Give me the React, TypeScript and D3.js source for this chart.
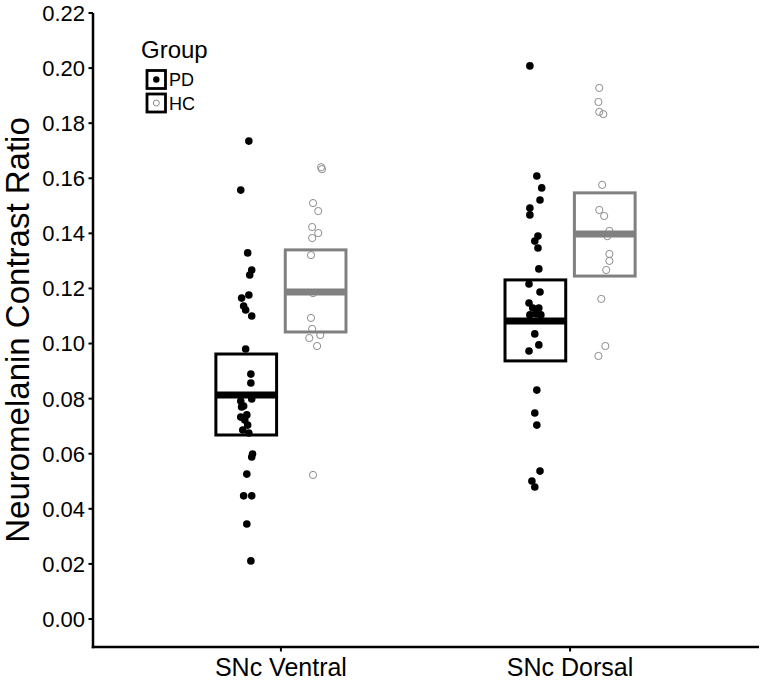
import React from 'react';
import * as d3 from 'd3';

const categories = ['SNc Ventral', 'SNc Dorsal'];
const yTicks = [0, 0.02, 0.04, 0.06, 0.08, 0.1, 0.12, 0.14, 0.16, 0.18, 0.2, 0.22];

// PD points: [value, jitter (x units)]
const pdVentral: [number, number][] = [
  [0.1735, 0.009], [0.1557, -0.019], [0.1329, 0.005], [0.1267, 0.019], [0.1249, 0.012],
  [0.1176, 0.009], [0.1165, -0.016], [0.1136, -0.009], [0.1122, -0.002], [0.1100, 0.019],
  [0.0980, -0.002], [0.0889, 0.016], [0.0857, 0.016], [0.0799, 0.019], [0.0791, -0.019],
  [0.0773, -0.009], [0.0770, -0.016], [0.0741, 0.002], [0.0733, -0.019], [0.0722, -0.005],
  [0.0704, 0.005], [0.0686, -0.012], [0.0675, 0.009], [0.0599, 0.022], [0.0588, 0.019],
  [0.0526, 0.002], [0.0447, -0.009], [0.0447, 0.019], [0.0345, 0.002], [0.0211, 0.016],
];
const pdDorsal: [number, number][] = [
  [0.2008, -0.019], [0.1608, 0.005], [0.1565, 0.022], [0.1521, 0.016], [0.1492, -0.019],
  [0.1467, -0.019], [0.1390, 0.009], [0.1372, -0.002], [0.1347, 0.009], [0.1271, 0.012],
  [0.1216, -0.022], [0.1187, 0.016], [0.1147, -0.022], [0.1129, -0.009], [0.1129, 0.012],
  [0.1107, 0.002], [0.1104, -0.019], [0.1104, 0.019], [0.1035, -0.002], [0.0995, 0.012],
  [0.0973, -0.022], [0.0831, 0.005], [0.0748, -0.002], [0.0704, 0.005], [0.0537, 0.016],
  [0.0501, -0.012], [0.0479, -0.002],
];
// HC points
const hcVentral: [number, number][] = [
  [0.1640, 0.019], [0.1633, 0.022], [0.1510, -0.009], [0.1481, 0.009], [0.1423, -0.012],
  [0.1401, 0.009], [0.1383, -0.012], [0.1321, -0.016], [0.1183, -0.009], [0.1093, -0.016],
  [0.1053, -0.012], [0.1031, 0.016], [0.1020, -0.022], [0.0991, 0.005], [0.0523, -0.009],
];
const hcDorsal: [number, number][] = [
  [0.1928, -0.019], [0.1877, -0.022], [0.1841, -0.019], [0.1833, -0.005], [0.1576, -0.009],
  [0.1485, -0.019], [0.1463, -0.002], [0.1409, 0.016], [0.1390, 0.009], [0.1325, 0.016],
  [0.1300, 0.016], [0.1267, 0.005], [0.1162, -0.012], [0.0991, 0.002], [0.0955, -0.022],
];

// crossbar summaries per category
const pdMid = [0.0813, 0.1082];
const pdLow = [0.0668, 0.0937];
const pdHigh = [0.0962, 0.1231];
const hcMid = [0.1187, 0.1398];
const hcLow = [0.1042, 0.1245];
const hcHigh = [0.1340, 0.1547];

const W = 760;
const H = 682;
const FONT = '"Liberation Sans", Arial, Helvetica, sans-serif';
const PD_COL = '#000000';
const HC_COL = '#808080';
const HC_PT = '#8c8c8c';

export default function App() {
  const y = d3.scaleLinear().domain([0, 0.22]).range([619, 13]);
  const x = d3.scaleLinear().domain([-0.65, 1.65]).range([93, 758]);
  const yBottom = 647;
  const dodge = 0.12;
  const boxW = 0.21;

  const groupsDef = [
    { pts: [pdVentral, pdDorsal], mid: pdMid, low: pdLow, high: pdHigh, off: -dodge, col: PD_COL, filled: true },
    { pts: [hcVentral, hcDorsal], mid: hcMid, low: hcLow, high: hcHigh, off: dodge, col: HC_COL, filled: false },
  ];

  return (
    <svg width={W} height={H} style={{ position: 'absolute', left: 0, top: 0, background: '#fff' }} fontFamily={FONT}>
      {/* points */}
      {groupsDef.map((g, gi) =>
        g.pts.map((arr, ci) =>
          arr.map(([v, j], i) => (
            <circle
              key={`p${gi}-${ci}-${i}`}
              cx={x(ci + g.off + j)}
              cy={y(v)}
              r={g.filled ? 3.8 : 3.6}
              fill={g.filled ? PD_COL : 'none'}
              stroke={g.filled ? 'none' : HC_PT}
              strokeWidth={1}
            />
          ))
        )
      )}
      {/* crossbars */}
      {groupsDef.map((g, gi) =>
        categories.map((c, ci) => {
          const x0 = x(ci + g.off - boxW / 2);
          const x1 = x(ci + g.off + boxW / 2);
          return (
            <g key={`b${gi}-${ci}`}>
              <rect x={x0} y={y(g.high[ci])} width={x1 - x0} height={y(g.low[ci]) - y(g.high[ci])}
                fill="none" stroke={g.col} strokeWidth={3} />
              <line x1={x0} x2={x1} y1={y(g.mid[ci])} y2={y(g.mid[ci])} stroke={g.col} strokeWidth={7} />
            </g>
          );
        })
      )}
      {/* y axis */}
      <line x1={93} x2={93} y1={y(0.22)} y2={yBottom + 1.25} stroke="#000" strokeWidth={2.5} />
      {yTicks.map((t) => (
        <g key={`yt${t}`}>
          <line x1={88.5} x2={93} y1={y(t)} y2={y(t)} stroke="#000" strokeWidth={2} />
          <text x={85} y={y(t)} dy="0.36em" textAnchor="end" fontSize={22} fill="#000">
            {d3.format('.2f')(t)}
          </text>
        </g>
      ))}
      {/* x axis */}
      <line x1={91.75} x2={759} y1={yBottom} y2={yBottom} stroke="#000" strokeWidth={2.5} />
      {categories.map((c, ci) => (
        <g key={`xt${c}`}>
          <line x1={x(ci)} x2={x(ci)} y1={yBottom} y2={yBottom + 4.5} stroke="#000" strokeWidth={2} />
          <text x={x(ci)} y={676} textAnchor="middle" fontSize={25} fill="#000">{c}</text>
        </g>
      ))}
      {/* y title */}
      <text transform={`translate(29, ${(13 + yBottom) / 2}) rotate(-90)`} textAnchor="middle" fontSize={33} fill="#000">
        Neuromelanin Contrast Ratio
      </text>
      {/* legend */}
      <text x={141} y={58} fontSize={24} fill="#000">Group</text>
      <rect x={147} y={70.5} width={18.5} height={18} fill="#fff" stroke="#000" strokeWidth={2.8} />
      <circle cx={156.3} cy={79.5} r={3.2} fill={PD_COL} />
      <text x={169} y={86} fontSize={18} fill="#000">PD</text>
      <rect x={147} y={94} width={18.5} height={18} fill="#fff" stroke="#000" strokeWidth={2.8} />
      <circle cx={156.3} cy={103} r={3} fill="none" stroke={HC_PT} strokeWidth={1} />
      <text x={169} y={109.5} fontSize={18} fill="#000">HC</text>
    </svg>
  );
}
